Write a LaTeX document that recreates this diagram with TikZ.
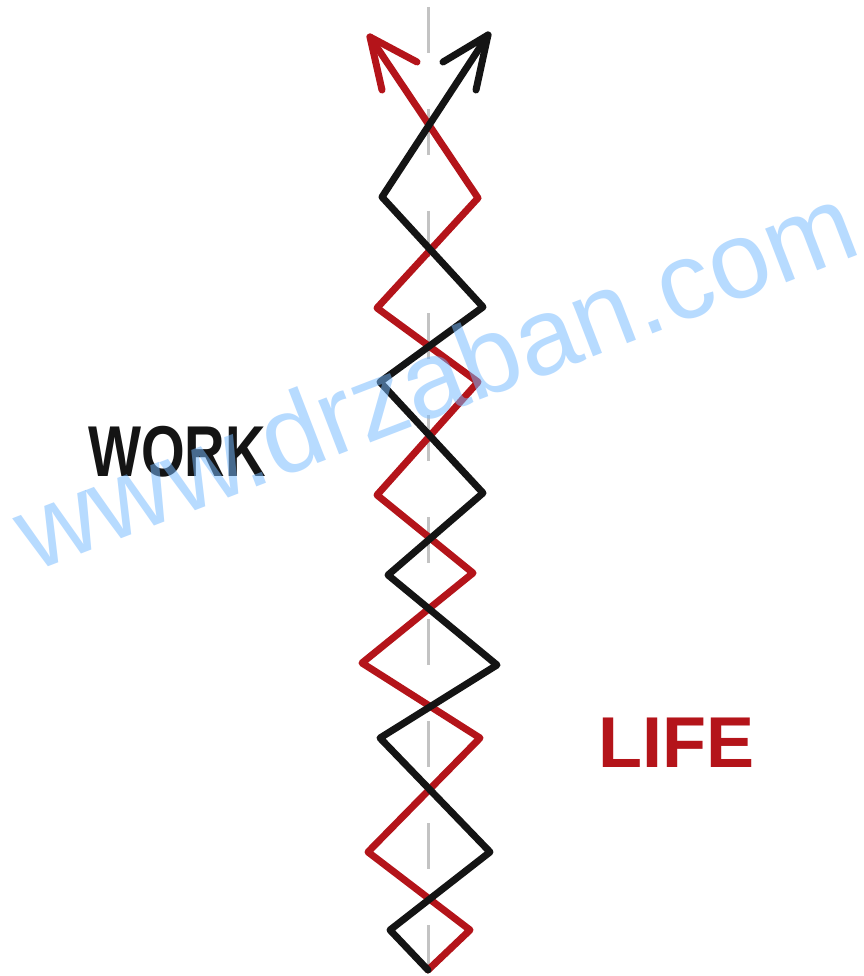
\documentclass[tikz,border=0pt]{standalone}
\usepackage{fontspec}
\setmainfont{Liberation Sans}
\definecolor{lifered}{RGB}{180,20,26}
\definecolor{workblack}{RGB}{20,20,20}
\definecolor{axisgray}{RGB}{195,195,195}
\definecolor{wmblue}{RGB}{118,186,255}
\begin{document}
\begin{tikzpicture}[x=1pt,y=-1pt,line join=round,line cap=round,
  axisline/.style={draw=axisgray,line width=3pt,line cap=butt,dash pattern=on 46pt off 56pt},
  redpath/.style={draw=lifered,line width=7pt},
  blackpath/.style={draw=workblack,line width=7pt},
  label/.style={inner sep=0pt,font=\bfseries\fontsize{72}{72}\selectfont}]
\useasboundingbox (0,0) rectangle (863,976);
\fill[white] (0,0) rectangle (863,976);
% axis
\coordinate (axT) at (428,7);
\coordinate (axB) at (428,972);
\draw[axisline] (axT) -- (axB);
% red path vertices
\coordinate (r0) at (428,970);
\coordinate (r1) at (470,930);
\coordinate (r2) at (368,852);
\coordinate (r3) at (480,738);
\coordinate (r4) at (362,663);
\coordinate (r5) at (473,573);
\coordinate (r6) at (377,495);
\coordinate (r7) at (478,382);
\coordinate (r8) at (377,308);
\coordinate (r9) at (478,198);
\coordinate (rtip) at (370,37);
\coordinate (rb1) at (417,62);
\coordinate (rb2) at (382,90);
% black path vertices
\coordinate (b0) at (428,970);
\coordinate (b1) at (390,930);
\coordinate (b2) at (490,852);
\coordinate (b3) at (380,738);
\coordinate (b4) at (497,665);
\coordinate (b5) at (388,575);
\coordinate (b6) at (483,493);
\coordinate (b7) at (380,382);
\coordinate (b8) at (483,307);
\coordinate (b9) at (382,197);
\coordinate (btip) at (488,35);
\coordinate (bb1) at (443,62);
\coordinate (bb2) at (476,90);
\draw[redpath] (r0) -- (r1) -- (r2) -- (r3) -- (r4) -- (r5) -- (r6) -- (r7) -- (r8) -- (r9) -- (rtip);
\draw[redpath] (rb1) -- (rtip) -- (rb2);
\draw[blackpath] (b0) -- (b1) -- (b2) -- (b3) -- (b4) -- (b5) -- (b6) -- (b7) -- (b8) -- (b9) -- (btip);
\draw[blackpath] (bb1) -- (btip) -- (bb2);
% labels
\node[label,text=workblack,xscale=0.78,anchor=base west] (work) at (88,476) {WORK};
\node[label,text=lifered,anchor=base west] (life) at (598,767) {LIFE};
% watermark
\node[inner sep=0pt,anchor=base west,rotate=21.1,text=wmblue,text opacity=0.52,
  font=\fontsize{109}{109}\selectfont] (wm) at (33,573) {www.drzaban.com};
\end{tikzpicture}
\end{document}
